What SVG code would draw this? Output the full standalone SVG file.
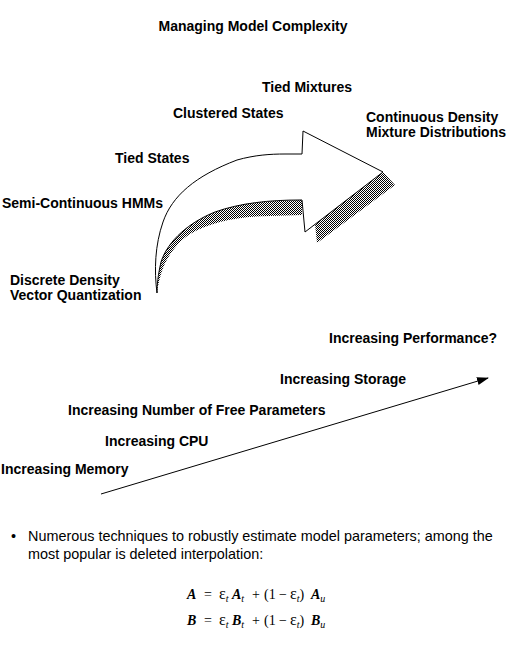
<svg xmlns="http://www.w3.org/2000/svg" width="518" height="647" viewBox="0 0 518 647">
<defs>
<style>
.lbl{font-family:"Liberation Sans",Arial,sans-serif;font-size:14px;font-weight:bold;fill:#000}
.body{font-family:"Liberation Sans",Arial,sans-serif;font-size:14.4px;fill:#000}
.eq{font-family:"Liberation Serif","Times New Roman",serif;font-size:14px;fill:#000}
.bi{font-weight:bold;font-style:italic}
.it{font-style:italic}
.sub{font-style:italic;font-size:10px}
.eps{font-size:16px}
</style>
<pattern id="dither" width="2" height="2" patternUnits="userSpaceOnUse">
<rect width="2" height="2" fill="#fff"/>
<rect width="1" height="1" fill="#000"/>
<rect x="1" y="1" width="1" height="1" fill="#000"/>
</pattern>
<marker id="ah" markerWidth="12" markerHeight="8" refX="11" refY="4" orient="auto" markerUnits="userSpaceOnUse">
<path d="M0,0 L12,4 L0,8 Z" fill="#000"/>
</marker>
</defs>
<rect width="518" height="647" fill="#fff"/>
<text class="lbl" x="253" y="31" text-anchor="middle">Managing Model Complexity</text>

<g id="big-arrow">
<path d="M302,200 L300,200 C270,200 240,203 215,212 C190,222 168,240 161,262 C158,275 157,285 157,293 C158,285 160,276 163,268 C168,255 178,242 190,234 C210,222 240,216 270,216 L302,215 Z" fill="url(#dither)"/>
<path d="M383,172 L395,185 L317,243 L315,224 Z" fill="url(#dither)"/>
<path d="M157,293 C154,270 155,245 163,222 C172,196 195,176 237,160 C255,155 270,154 285,154 L302,154 L303,131 L383,172 L305,232 L302,200 L300,200 C270,200 240,203 215,212 C190,222 168,240 161,262 C158,275 157,285 157,293 Z" fill="#fff" stroke="#000" stroke-width="1"/>
</g>

<g id="n-tied-mixtures"><text class="lbl" x="262" y="92">Tied Mixtures</text></g>
<g id="n-clustered-states"><text class="lbl" x="173" y="118">Clustered States</text></g>
<g id="n-continuous"><text class="lbl" x="366" y="122">Continuous Density</text><text class="lbl" x="366" y="137">Mixture Distributions</text></g>
<g id="n-tied-states"><text class="lbl" x="115" y="163">Tied States</text></g>
<g id="n-semi"><text class="lbl" x="2" y="208">Semi-Continuous HMMs</text></g>
<g id="n-discrete"><text class="lbl" x="10" y="285">Discrete Density</text><text class="lbl" x="10" y="300">Vector Quantization</text></g>

<g id="connectors">
<line x1="101" y1="494" x2="488" y2="378" stroke="#000" stroke-width="1" marker-end="url(#ah)"/>
</g>

<g id="n-performance"><text class="lbl" x="329" y="343">Increasing Performance?</text></g>
<g id="n-storage"><text class="lbl" x="280" y="384">Increasing Storage</text></g>
<g id="n-params"><text class="lbl" x="68" y="415">Increasing Number of Free Parameters</text></g>
<g id="n-cpu"><text class="lbl" x="105" y="446">Increasing CPU</text></g>
<g id="n-memory"><text class="lbl" x="1" y="474">Increasing Memory</text></g>

<g id="bullet">
<text class="body" x="11" y="541">•</text>
<text class="body" x="28" y="541">Numerous techniques to robustly estimate model parameters; among the</text>
<text class="body" x="28" y="559">most popular is deleted interpolation:</text>
</g>

<g id="equations">
<text class="eq" y="599"><tspan x="187" class="bi">A</tspan><tspan x="204">=</tspan><tspan x="219" class="eps">ε</tspan><tspan class="sub" dy="3">t</tspan><tspan x="232" class="bi" dy="-3">A</tspan><tspan class="sub" dy="3">t</tspan><tspan x="252" dy="-3">+</tspan><tspan x="264">(1</tspan><tspan x="279">−</tspan><tspan x="290" class="eps">ε</tspan><tspan class="sub" dy="3">t</tspan><tspan dy="-3">)</tspan><tspan x="311" class="bi">A</tspan><tspan class="sub" dy="3">u</tspan></text>
<text class="eq" y="625"><tspan x="187" class="bi">B</tspan><tspan x="204">=</tspan><tspan x="219" class="eps">ε</tspan><tspan class="sub" dy="3">t</tspan><tspan x="232" class="bi" dy="-3">B</tspan><tspan class="sub" dy="3">t</tspan><tspan x="252" dy="-3">+</tspan><tspan x="264">(1</tspan><tspan x="279">−</tspan><tspan x="290" class="eps">ε</tspan><tspan class="sub" dy="3">t</tspan><tspan dy="-3">)</tspan><tspan x="311" class="bi">B</tspan><tspan class="sub" dy="3">u</tspan></text>
</g>
</svg>
